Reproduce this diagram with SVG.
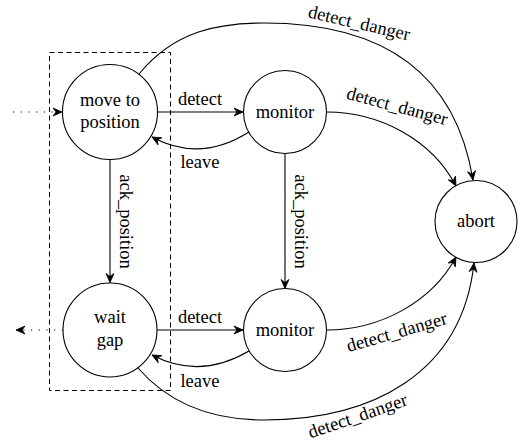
<svg xmlns="http://www.w3.org/2000/svg" width="528" height="442" viewBox="0 0 528 442">
<style>
.t{font-family:Liberation Serif,Times New Roman,DejaVu Serif,serif;font-size:18.5px;fill:#000;text-anchor:middle}
.n{fill:#fff;stroke:#000;stroke-width:1.1}
.e{fill:none;stroke:#000;stroke-width:1.1;marker-end:url(#ah)}
.dot{stroke-dasharray:1.2 6.5}
.box{fill:none;stroke:#000;stroke-width:1;stroke-dasharray:5 3.5}
</style>
<defs>
<marker id="ah" markerUnits="userSpaceOnUse" markerWidth="14" markerHeight="12" viewBox="-11 -6 13 12" refX="0" refY="0" orient="auto">
<path d="M0,0 L-9,-4 L-6,0 L-9,4 Z" fill="#000" stroke="#000" stroke-width="0.8" stroke-linejoin="miter"/>
</marker>
</defs>
<rect class="box" x="49.5" y="52.5" width="121" height="338"/>
<g id="connectors">
<path class="e dot" d="M13,112 L62,112"/>
<path class="e dot" d="M63,330 L16,330"/>
<path class="e" d="M157.5,112 L243,112"/>
<path class="e" d="M157,330 L243,330"/>
<path class="e" d="M249,132 Q200,163 152,137"/>
<path class="e" d="M249,351 Q200,380 152,355"/>
<path class="e" d="M110,159.5 L110,282.5"/>
<path class="e" d="M285,153.5 L285,288.5"/>
<path class="e" d="M139,74 C175,30 220,23 264,23 C380,23 455,70 473,180"/>
<path class="e" d="M326.5,112 C380,112 432,140 456,186"/>
<path class="e" d="M326.5,330 C380,330 432,302 456,257"/>
<path class="e" d="M138,368 C170,405 215,420 264,420 C370,420 462,375 474,263"/>
<text class="t" x="200" y="105">detect</text>
<text class="t" x="200" y="323">detect</text>
<text class="t" x="200" y="168">leave</text>
<text class="t" x="200" y="387">leave</text>
<text class="t" transform="translate(120,221.5) rotate(90)" x="0" y="0">ack_position</text>
<text class="t" transform="translate(295,221.5) rotate(90)" x="0" y="0">ack_position</text>
<text class="t" transform="translate(359,24) rotate(13)" x="0" y="5">detect_danger</text>
<text class="t" transform="translate(397,107) rotate(15)" x="0" y="5">detect_danger</text>
<text class="t" transform="translate(397,333) rotate(-16)" x="0" y="5">detect_danger</text>
<text class="t" transform="translate(358,417) rotate(-19)" x="0" y="5">detect_danger</text>
</g>
<g id="move">
<circle class="n" cx="110" cy="112" r="47.5"/>
<text class="t" x="110" y="106">move to</text>
<text class="t" x="110" y="128">position</text>
</g>
<g id="monitor1">
<circle class="n" cx="285" cy="112" r="41.5"/>
<text class="t" x="285" y="118">monitor</text>
</g>
<g id="wait">
<circle class="n" cx="110" cy="330" r="47"/>
<text class="t" x="110" y="323">wait</text>
<text class="t" x="110" y="346">gap</text>
</g>
<g id="monitor2">
<circle class="n" cx="285" cy="330" r="41.5"/>
<text class="t" x="285" y="336">monitor</text>
</g>
<g id="abort">
<circle class="n" cx="476" cy="221.5" r="41"/>
<text class="t" x="476" y="227">abort</text>
</g>
</svg>
